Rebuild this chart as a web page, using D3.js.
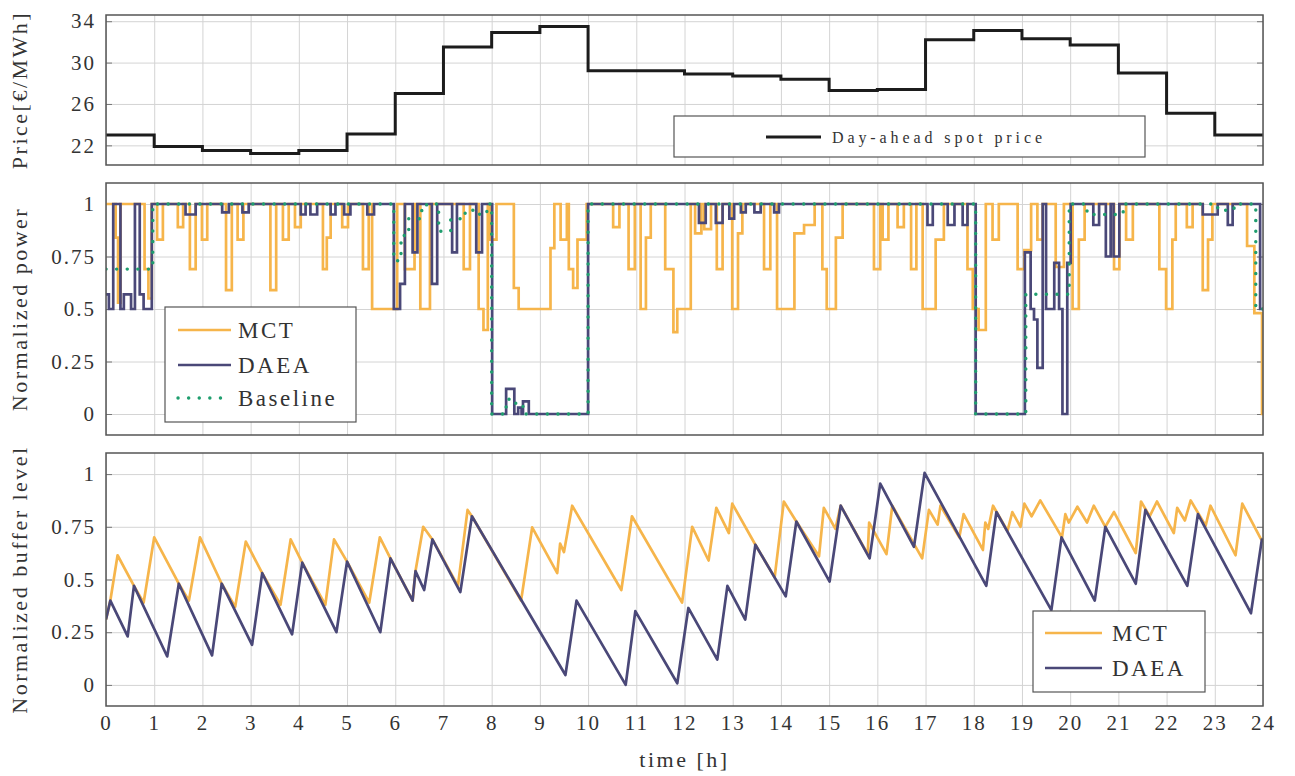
<!DOCTYPE html>
<html>
<head>
<meta charset="utf-8">
<script src="https://d3js.org/d3.v7.min.js"></script>
<style>
  body { margin: 0; background: #fff; }
  text { font-family: "Liberation Serif", "Times New Roman", serif; fill: #333; }
  .tick text { font-size: 21px; letter-spacing: 2px; fill: #333; }
  .grid line { stroke: #d4d4d4; stroke-width: 1; }
  .grid path, .yaxis path, .xaxis path { display: none; }
  .yaxis line { stroke: #777; stroke-width: 1; }
  .xaxis line { display: none; }
  .frame { fill: none; stroke: #555; stroke-width: 1.5; }
  .title { font-size: 22px; letter-spacing: 2.5px; }
  .legend rect { fill: #fff; stroke: #555; stroke-width: 1.2; }
</style>
</head>
<body>
<svg id="chart" width="1295" height="776"></svg>
<script>
// ---- data ----
const hours = [0, 1, 2, 3, 4, 5, 6, 7, 8, 9, 10, 11, 12, 13, 14, 15, 16, 17, 18, 19, 20, 21, 22, 23];
const spotPrice = [23.0, 21.9, 21.5, 21.2, 21.5, 23.1, 27.0, 31.5, 32.9, 33.5, 29.2, 29.2,
                   28.9, 28.7, 28.4, 27.3, 27.4, 32.2, 33.1, 32.3, 31.7, 29.0, 25.1, 23.0];

// normalized power: [start h, end h, level], power is 1 outside these intervals
const mctDips = [
  [0.20, 0.25, 0.84], [0.25, 0.30, 0.53], [0.80, 0.88, 0.69], [0.88, 0.95, 0.55],
  [1.06, 1.18, 0.83], [1.49, 1.60, 0.89], [1.74, 1.86, 0.69], [1.99, 2.10, 0.83],
  [2.49, 2.61, 0.59], [2.73, 2.85, 0.83], [3.41, 3.53, 0.59], [3.67, 3.79, 0.83],
  [3.92, 4.04, 0.89], [4.50, 4.58, 0.69], [4.58, 4.66, 0.84], [4.90, 5.02, 0.89],
  [5.33, 5.45, 0.69], [5.52, 6.04, 0.5], [6.20, 6.40, 0.69], [6.52, 6.72, 0.5],
  [7.42, 7.55, 0.69], [7.73, 7.83, 0.5], [7.83, 7.92, 0.4], [7.97, 8.10, 0.83],
  [8.46, 8.56, 0.6], [8.56, 9.22, 0.5], [9.22, 9.30, 0.79], [9.43, 9.56, 0.83],
  [9.60, 9.69, 0.69], [9.69, 9.78, 0.6], [9.78, 9.97, 0.83], [10.52, 10.65, 0.89],
  [10.84, 10.97, 0.69], [11.09, 11.20, 0.5], [11.20, 11.30, 0.84], [11.60, 11.77, 0.69],
  [11.77, 11.85, 0.39], [11.85, 12.13, 0.5], [12.22, 12.35, 0.86], [12.41, 12.55, 0.88],
  [12.67, 12.79, 0.69], [12.99, 13.11, 0.5], [13.11, 13.20, 0.86], [13.65, 13.78, 0.69],
  [13.92, 14.28, 0.5], [14.28, 14.48, 0.86], [14.48, 14.70, 0.9], [14.86, 14.95, 0.69],
  [14.95, 15.14, 0.5], [15.14, 15.28, 0.84], [15.93, 16.06, 0.69], [16.11, 16.23, 0.83],
  [16.42, 16.55, 0.89], [16.70, 16.81, 0.69], [16.94, 17.21, 0.5], [17.21, 17.38, 0.83],
  [17.87, 17.98, 0.69], [17.98, 18.10, 0.5], [18.10, 18.25, 0.4], [18.39, 18.52, 0.83],
  [18.91, 19.05, 0.69], [19.05, 19.19, 0.78], [19.32, 19.43, 0.83], [19.70, 19.87, 0.7],
  [20.05, 20.18, 0.5], [20.18, 20.30, 0.83], [20.91, 21.02, 0.69], [21.16, 21.30, 0.83],
  [21.85, 21.99, 0.69], [21.99, 22.12, 0.5], [22.12, 22.19, 0.83], [22.42, 22.54, 0.89],
  [22.75, 22.86, 0.59], [22.86, 22.95, 0.83], [23.67, 23.82, 0.8], [23.82, 23.98, 0.48],
  [23.98, 24, 0]
];
const daeaDips = [
  [0, 0.06, 0.57], [0.06, 0.15, 0.5], [0.30, 0.37, 0.5], [0.37, 0.52, 0.57], [0.52, 0.60, 0.5],
  [0.70, 0.78, 0.57], [0.78, 0.95, 0.5], [1.65, 1.86, 0.95], [2.41, 2.55, 0.96], [2.83, 2.96, 0.96],
  [4.04, 4.14, 0.95], [4.24, 4.38, 0.95], [4.66, 4.76, 0.95], [4.94, 5.07, 0.95], [5.42, 5.56, 0.95],
  [5.97, 6.10, 0.5], [6.10, 6.20, 0.62], [6.36, 6.46, 0.77], [6.76, 6.87, 0.62], [7.18, 7.28, 0.77],
  [7.68, 7.80, 0.77], [8.01, 8.30, 0], [8.30, 8.47, 0.12], [8.47, 8.55, 0], [8.55, 8.62, 0.03],
  [8.62, 8.65, 0], [8.65, 8.77, 0.06], [8.77, 10.0, 0], [12.30, 12.44, 0.91], [12.65, 12.79, 0.91],
  [12.93, 13.03, 0.93], [13.17, 13.27, 0.96], [13.45, 13.58, 0.96], [13.86, 13.96, 0.96],
  [17.04, 17.15, 0.9], [17.46, 17.60, 0.9], [17.77, 17.87, 0.9], [18.04, 19.06, 0],
  [19.06, 19.18, 0.77], [19.18, 19.25, 0.5], [19.25, 19.32, 0.45], [19.32, 19.43, 0.22],
  [19.50, 19.67, 0.5], [19.67, 19.77, 0.72], [19.77, 19.84, 0.5], [19.84, 19.94, 0],
  [19.94, 20.01, 0.72], [20.48, 20.60, 0.9], [20.74, 20.84, 0.75], [20.90, 21.02, 0.75],
  [22.75, 23.06, 0.95], [23.27, 23.37, 0.9], [23.94, 24, 0.5]
];
// baseline: [time h, level] step changes
const baselineSteps = [
  [0, 0.69], [0.97, 1], [5.97, 0.73], [6.12, 0.85], [6.28, 0.93], [6.55, 0.97], [6.65, 1],
  [6.9, 0.87], [7.15, 0.93], [7.45, 0.97], [7.75, 0.95], [7.9, 1], [8.0, 0], [8.3, 0.07],
  [8.5, 0.04], [8.65, 0], [10.0, 1], [18.04, 0], [19.08, 0.57], [19.98, 1], [20.35, 0.95],
  [21.1, 1], [23.06, 0.97], [23.4, 1], [23.85, 0.5], [24, 0.5]
];

// normalized buffer level: [time h, level]
const mctBuffer = [
  [0, 0.31], [0.09, 0.40], [0.24, 0.615], [0.58, 0.47], [0.78, 0.39], [1.0, 0.70], [1.51, 0.48],
  [1.72, 0.40], [1.95, 0.70], [2.4, 0.48], [2.68, 0.37], [2.9, 0.68], [3.24, 0.53], [3.62, 0.38],
  [3.83, 0.69], [4.07, 0.58], [4.55, 0.38], [4.73, 0.69], [5.0, 0.585], [5.46, 0.39], [5.68, 0.70],
  [5.9, 0.60], [6.36, 0.40], [6.42, 0.54], [6.58, 0.75], [6.77, 0.69], [7.3, 0.47], [7.5, 0.83],
  [7.59, 0.80], [8.61, 0.40], [8.84, 0.747], [9.36, 0.53], [9.42, 0.67], [9.5, 0.63], [9.67, 0.85],
  [10.69, 0.45], [10.91, 0.80], [11.95, 0.39], [12.16, 0.75], [12.5, 0.59], [12.66, 0.84],
  [12.92, 0.72], [12.99, 0.86], [13.47, 0.665], [13.87, 0.51], [14.06, 0.87], [14.32, 0.775],
  [14.79, 0.61], [14.89, 0.84], [15.13, 0.74], [15.24, 0.85], [15.8, 0.62], [15.83, 0.77],
  [16.19, 0.62], [16.31, 0.85], [16.93, 0.60], [17.07, 0.83], [17.25, 0.76], [17.31, 0.85],
  [17.7, 0.70], [17.79, 0.81], [18.19, 0.64], [18.24, 0.77], [18.3, 0.74], [18.4, 0.85],
  [18.7, 0.73], [18.8, 0.82], [18.97, 0.75], [19.05, 0.86], [19.2, 0.80], [19.38, 0.875],
  [19.83, 0.70], [19.9, 0.81], [19.97, 0.77], [20.15, 0.845], [20.35, 0.77], [20.49, 0.85],
  [20.73, 0.75], [20.91, 0.82], [21.36, 0.625], [21.47, 0.87], [21.65, 0.80], [21.8, 0.87],
  [22.15, 0.72], [22.22, 0.84], [22.38, 0.78], [22.5, 0.875], [22.81, 0.755], [22.91, 0.85],
  [23.43, 0.615], [23.57, 0.86], [23.95, 0.695], [24, 0.68]
];
const daeaBuffer = [
  [0, 0.31], [0.09, 0.40], [0.45, 0.23], [0.58, 0.47], [1.27, 0.135], [1.51, 0.48], [2.2, 0.14],
  [2.4, 0.48], [3.03, 0.19], [3.24, 0.53], [3.86, 0.24], [4.07, 0.58], [4.78, 0.25], [5.0, 0.585],
  [5.69, 0.25], [5.9, 0.60], [6.36, 0.40], [6.42, 0.54], [6.6, 0.45], [6.77, 0.69], [7.35, 0.44],
  [7.59, 0.80], [9.53, 0.047], [9.76, 0.40], [10.78, 0], [10.98, 0.35], [11.85, 0.008],
  [12.08, 0.365], [12.68, 0.12], [12.89, 0.47], [13.26, 0.31], [13.47, 0.665], [14.1, 0.42],
  [14.32, 0.775], [15.01, 0.49], [15.24, 0.85], [15.84, 0.60], [16.06, 0.955], [16.76, 0.655],
  [16.98, 1.006], [18.26, 0.47], [18.47, 0.82], [19.61, 0.355], [19.82, 0.70], [20.51, 0.40],
  [20.73, 0.75], [21.36, 0.48], [21.56, 0.83], [22.43, 0.47], [22.65, 0.81], [23.75, 0.34],
  [23.98, 0.695]
];

const xTicks = [0, 1, 2, 3, 4, 5, 6, 7, 8, 9, 10, 11, 12, 13, 14, 15, 16, 17, 18, 19, 20, 21, 22, 23, 24];
const priceTicks = [22, 26, 30, 34];
const normTicks = [0, 0.25, 0.5, 0.75, 1];

const colMCT = "#f6b54b", colDAEA = "#4a4878", colBase = "#1f9e6e", colPrice = "#1c1c1c";

// ---- layout ----
const svg = d3.select("#chart");
const left = 106, right = 1263;
const x = d3.scaleLinear().domain([0, 24]).range([left, right]);

const panels = [
  { top: 15, bottom: 165, domain: [20.1, 34.6], ticks: priceTicks, title: "Price[€/MWh]" },
  { top: 183, bottom: 435, domain: [-0.1, 1.1], ticks: normTicks, title: "Normalized power" },
  { top: 453, bottom: 706, domain: [-0.1, 1.1], ticks: normTicks, title: "Normalized buffer level" }
];

panels.forEach((p, i) => {
  p.y = d3.scaleLinear().domain(p.domain).range([p.bottom, p.top]);
  const g = svg.append("g");
  p.g = g;

  g.append("clipPath").attr("id", "clip" + i)
    .append("rect").attr("x", left).attr("y", p.top)
    .attr("width", right - left).attr("height", p.bottom - p.top);

  // grid
  g.append("g").attr("class", "grid")
    .attr("transform", `translate(0,${p.bottom})`)
    .call(d3.axisBottom(x).tickValues(xTicks).tickSize(-(p.bottom - p.top)).tickFormat(""));
  g.append("g").attr("class", "grid")
    .attr("transform", `translate(${left},0)`)
    .call(d3.axisLeft(p.y).tickValues(p.ticks).tickSize(-(right - left)).tickFormat(""));

  // y axis ticks (inward) with labels, plus right side ticks
  g.append("g").attr("class", "yaxis")
    .attr("transform", `translate(${left},0)`)
    .call(d3.axisLeft(p.y).tickValues(p.ticks).tickSize(-6).tickPadding(10).tickFormat(d => String(d)));
  g.append("g").attr("class", "yaxis")
    .attr("transform", `translate(${right},0)`)
    .call(d3.axisRight(p.y).tickValues(p.ticks).tickSize(-6).tickFormat(""));

  p.plot = g.append("g").attr("clip-path", `url(#clip${i})`);

  g.append("rect").attr("class", "frame")
    .attr("x", left).attr("y", p.top)
    .attr("width", right - left).attr("height", p.bottom - p.top);

  svg.append("text").attr("class", "title")
    .attr("transform", `translate(27,${(p.top + p.bottom) / 2}) rotate(-90)`)
    .attr("text-anchor", "middle")
    .text(p.title);
});

// x axis labels under the last panel
svg.append("g").attr("class", "xaxis")
  .attr("transform", `translate(0,${panels[2].bottom})`)
  .call(d3.axisBottom(x).tickValues(xTicks).tickSize(0).tickPadding(9).tickFormat(d => String(d)));

svg.append("text").attr("class", "title")
  .attr("x", (left + right) / 2).attr("y", 767)
  .attr("text-anchor", "middle")
  .text("time [h]");

// ---- helpers ----
function dipsToSteps(dips) {
  const pts = dips[0][0] > 0 ? [[0, 1]] : [];
  dips.forEach((d, i) => {
    pts.push([d[0], d[2]]);
    const next = dips[i + 1];
    if (d[1] < 24 && (!next || next[0] > d[1] + 1e-6)) pts.push([d[1], 1]);
  });
  pts.push([24, pts[pts.length - 1][1]]);
  return pts;
}

// ---- panel 1: price ----
const pricePts = hours.map((h, i) => [h, spotPrice[i]]).concat([[24, spotPrice[23]]]);
const p1 = panels[0];
p1.plot.append("path")
  .datum(pricePts)
  .attr("fill", "none").attr("stroke", colPrice).attr("stroke-width", 3)
  .attr("d", d3.line().x(d => x(d[0])).y(d => p1.y(d[1])).curve(d3.curveStepAfter));

const lg1 = svg.append("g").attr("class", "legend");
lg1.append("rect").attr("x", 674).attr("y", 116).attr("width", 471).attr("height", 41);
lg1.append("line").attr("x1", 766).attr("x2", 821).attr("y1", 137).attr("y2", 137)
  .attr("stroke", colPrice).attr("stroke-width", 3);
lg1.append("text").attr("x", 832).attr("y", 137).attr("dy", "0.35em")
  .style("font-size", "16px").style("letter-spacing", "3.9px")
  .text("Day-ahead spot price");

// ---- panel 2: power ----
const p2 = panels[1];
const stepLine = d3.line().x(d => x(d[0])).y(d => p2.y(d[1])).curve(d3.curveStepAfter);
p2.plot.append("path").datum(dipsToSteps(mctDips))
  .attr("fill", "none").attr("stroke", colMCT).attr("stroke-width", 2.7).attr("d", stepLine);
p2.plot.append("path").datum(dipsToSteps(daeaDips))
  .attr("fill", "none").attr("stroke", colDAEA).attr("stroke-width", 2.7).attr("d", stepLine);
p2.plot.append("path").datum(baselineSteps)
  .attr("fill", "none").attr("stroke", colBase).attr("stroke-width", 3.4)
  .attr("stroke-linecap", "round").attr("stroke-dasharray", "0.1 10.5").attr("d", stepLine);

const legendItems2 = [
  { name: "MCT", color: colMCT, dash: null },
  { name: "DAEA", color: colDAEA, dash: null },
  { name: "Baseline", color: colBase, dash: "0.1 10.5" }
];
const lg2 = svg.append("g").attr("class", "legend");
lg2.append("rect").attr("x", 165).attr("y", 307).attr("width", 191).attr("height", 115);
legendItems2.forEach((d, i) => {
  const yy = [330, 365, 398][i];
  lg2.append("line").attr("x1", 178).attr("x2", 231).attr("y1", yy).attr("y2", yy)
    .attr("stroke", d.color).attr("stroke-width", d.dash ? 3.4 : 2.7)
    .attr("stroke-linecap", d.dash ? "round" : "butt")
    .attr("stroke-dasharray", d.dash);
  lg2.append("text").attr("x", 238).attr("y", yy).attr("dy", "0.35em")
    .style("font-size", "23px").style("letter-spacing", "2.5px").text(d.name);
});

// ---- panel 3: buffer ----
const p3 = panels[2];
const bufLine = d3.line().x(d => x(d[0])).y(d => p3.y(d[1]));
p3.plot.append("path").datum(mctBuffer)
  .attr("fill", "none").attr("stroke", colMCT).attr("stroke-width", 2.7)
  .attr("stroke-linejoin", "round").attr("d", bufLine);
p3.plot.append("path").datum(daeaBuffer)
  .attr("fill", "none").attr("stroke", colDAEA).attr("stroke-width", 2.7)
  .attr("stroke-linejoin", "round").attr("d", bufLine);

const lg3 = svg.append("g").attr("class", "legend");
lg3.append("rect").attr("x", 1033).attr("y", 611).attr("width", 172).attr("height", 81);
[{ name: "MCT", color: colMCT }, { name: "DAEA", color: colDAEA }].forEach((d, i) => {
  const yy = [633, 668][i];
  lg3.append("line").attr("x1", 1045).attr("x2", 1102).attr("y1", yy).attr("y2", yy)
    .attr("stroke", d.color).attr("stroke-width", 2.7);
  lg3.append("text").attr("x", 1112).attr("y", yy).attr("dy", "0.35em")
    .style("font-size", "23px").style("letter-spacing", "2.5px").text(d.name);
});
</script>
</body>
</html>
